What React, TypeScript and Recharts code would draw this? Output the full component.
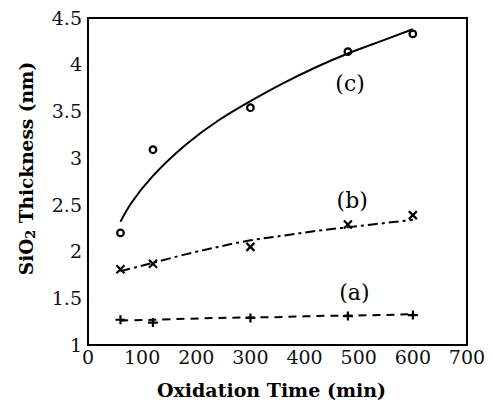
import React from "react";
import { ComposedChart, Line, Scatter, XAxis, YAxis } from "recharts";

// fitted curves
const fitTimes = [60, 80, 120, 180, 240, 300, 360, 420, 480, 540, 600];
const fitA = [1.26, 1.265, 1.27, 1.28, 1.29, 1.295, 1.3, 1.31, 1.315, 1.32, 1.33];
const fitB = [1.79, 1.82, 1.88, 1.97, 2.05, 2.12, 2.17, 2.22, 2.26, 2.3, 2.34];
const fitC = [2.32, 2.52, 2.81, 3.14, 3.4, 3.61, 3.8, 3.97, 4.12, 4.25, 4.38];

// measured points
const times = [60, 120, 300, 480, 600];
const measA = [1.27, 1.24, 1.29, 1.31, 1.32];
const measB = [1.81, 1.87, 2.05, 2.29, 2.39];
const measC = [2.2, 3.09, 3.54, 4.14, 4.33];

// curve labels
const tagNames = ["(a)", "(b)", "(c)"];
const tagX = [492, 488, 484];
const tagY = [1.56, 2.55, 3.8];

const xTicks = [0, 100, 200, 300, 400, 500, 600, 700];
const yTicks = [1, 1.5, 2, 2.5, 3, 3.5, 4, 4.5];

const FONT = "'DejaVu Serif', serif";
const INK = "#000";

const pts = (xs: number[], ys: number[]) => xs.map((x, i) => ({ x, y: ys[i] }));
const tags = tagNames.map((name, i) => ({ x: tagX[i], y: tagY[i], name }));

const Circle = ({ cx, cy }: any) => (
  <circle cx={cx} cy={cy} r={3.3} fill="none" stroke={INK} strokeWidth={2.2} />
);
const Cross = ({ cx, cy }: any) => (
  <path d={`M${cx - 4},${cy - 4}L${cx + 4},${cy + 4}M${cx - 4},${cy + 4}L${cx + 4},${cy - 4}`} stroke={INK} strokeWidth={2.2} />
);
const Plus = ({ cx, cy }: any) => (
  <path d={`M${cx - 5},${cy}L${cx + 5},${cy}M${cx},${cy - 4.5}L${cx},${cy + 4.5}`} stroke={INK} strokeWidth={2.2} />
);
const Tag = ({ cx, cy, payload }: any) => (
  <text x={cx} y={cy} textAnchor="middle" dominantBaseline="central" fontFamily={FONT} fontSize={22} fill={INK}>
    {payload.name}
  </text>
);

const tickFont = { fontFamily: FONT, fontSize: 19, fill: "#111" };
const border = { stroke: INK, strokeWidth: 2, strokeLinecap: "square" as const };
const tickMark = { stroke: INK, strokeWidth: 1.5 };
const blank = () => "";

export default function App() {
  return (
    <div style={{ position: "absolute", left: 0, top: 0, background: "#fff" }}>
      <ComposedChart width={492} height={403} margin={{ top: 18, right: 25, left: 8, bottom: 8 }}>
        <XAxis
          xAxisId="b"
          type="number"
          dataKey="x"
          domain={[0, 700]}
          ticks={xTicks}
          tick={tickFont}
          tickSize={0}
          tickMargin={6}
          tickLine={false}
          axisLine={border}
          height={50}
          label={{
            content: ({ viewBox }: any) => (
              <text
                x={viewBox.x + viewBox.width / 2 - 6}
                y={viewBox.y + 45}
                textAnchor="middle"
                dominantBaseline="central"
                fontFamily={FONT}
                fontWeight="bold"
                fontSize={19}
                fill={INK}
              >
                Oxidation Time (min)
              </text>
            ),
          }}
        />
        <XAxis xAxisId="bm" type="number" orientation="bottom" mirror domain={[0, 700]} ticks={xTicks} tickFormatter={blank} tickSize={7} tickLine={tickMark} axisLine={false} />
        <XAxis xAxisId="tm" type="number" orientation="top" mirror domain={[0, 700]} ticks={xTicks} tickFormatter={blank} tickSize={7} tickLine={tickMark} axisLine={border} />
        <YAxis
          yAxisId="l"
          type="number"
          dataKey="y"
          domain={[1, 4.5]}
          ticks={yTicks}
          tick={tickFont}
          tickSize={0}
          tickMargin={6}
          tickLine={false}
          axisLine={border}
          width={80}
          label={{
            content: ({ viewBox }: any) => {
              const cx = viewBox.x + 18;
              const cy = viewBox.y + viewBox.height / 2 - 13;
              return (
                <text
                  x={cx}
                  y={cy}
                  transform={`rotate(-90, ${cx}, ${cy})`}
                  textAnchor="middle"
                  dominantBaseline="central"
                  fontFamily={FONT}
                  fontWeight="bold"
                  fontSize={18.5}
                  fill={INK}
                >
                  SiO<tspan dy={4} fontSize={13}>2</tspan>
                  <tspan dy={-4}> Thickness (nm)</tspan>
                </text>
              );
            },
          }}
        />
        <YAxis yAxisId="lm" type="number" orientation="left" mirror domain={[1, 4.5]} ticks={yTicks} tickFormatter={blank} tickSize={7} tickLine={tickMark} axisLine={false} />
        <YAxis yAxisId="rm" type="number" orientation="right" mirror domain={[1, 4.5]} ticks={yTicks} tickFormatter={blank} tickSize={7} tickLine={tickMark} axisLine={border} />

        <Line xAxisId="b" yAxisId="l" data={pts(fitTimes, fitC)} dataKey="y" type="natural" stroke={INK} strokeWidth={2} dot={false} isAnimationActive={false} />
        <Line xAxisId="b" yAxisId="l" data={pts(fitTimes, fitB)} dataKey="y" type="natural" stroke={INK} strokeWidth={2} strokeDasharray="10 4 3 4" dot={false} isAnimationActive={false} />
        <Line xAxisId="b" yAxisId="l" data={pts(fitTimes, fitA)} dataKey="y" type="natural" stroke={INK} strokeWidth={2} strokeDasharray="8 6" dot={false} isAnimationActive={false} />

        <Scatter xAxisId="b" yAxisId="l" data={pts(times, measC)} shape={Circle} isAnimationActive={false} />
        <Scatter xAxisId="b" yAxisId="l" data={pts(times, measB)} shape={Cross} isAnimationActive={false} />
        <Scatter xAxisId="b" yAxisId="l" data={pts(times, measA)} shape={Plus} isAnimationActive={false} />
        <Scatter xAxisId="b" yAxisId="l" data={tags} shape={Tag} isAnimationActive={false} />
      </ComposedChart>
    </div>
  );
}
